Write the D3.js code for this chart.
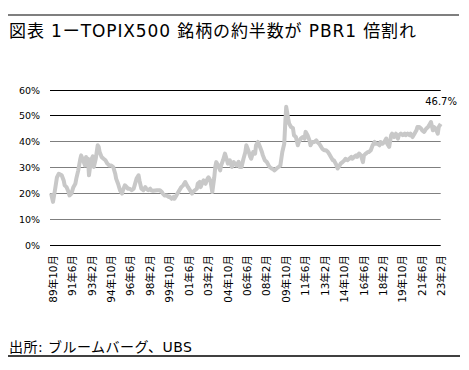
<!DOCTYPE html>
<html>
<head>
<meta charset="utf-8">
<script src="https://cdn.jsdelivr.net/npm/d3@7"></script>
<style>
    body { margin: 0; background: #fff; }
    text { font-family: "DejaVu Sans", "Noto Sans CJK JP", sans-serif; fill: #000; }
</style>
</head>
<body>
<div id="chart"></div>
<script>
// 出所: ブルームバーグ、UBS
const title = "図表 1ーTOPIX500 銘柄の約半数が PBR1 倍割れ";
const source = "出所: ブルームバーグ、UBS";
const lastLabel = "46.7%";

// months counted from 1989年10月
const startMonth = "1989-10";
const monthIdx = [
    -2, 0, 2, 4, 6, 9, 11, 12, 14, 16, 17, 19, 21, 23, 24, 26, 28, 29, 31, 33,
    34, 35, 36, 37, 39, 41, 42, 44, 46, 47, 48, 50, 52, 54, 56, 58, 60, 62, 64, 65,
    67, 69, 71, 72, 74, 76, 77, 79, 81, 83, 84, 86, 88, 89, 91, 93, 95, 96, 98, 100,
    101, 103, 107, 110, 112, 113, 115, 117, 119, 120, 122, 124, 125, 127, 129, 131, 132, 134, 136, 137,
    139, 141, 143, 144, 146, 148, 149, 151, 152, 154, 155, 157, 159, 160, 162, 164, 166, 167, 168, 170,
    172, 173, 175, 177, 179, 180, 182, 184, 186, 187, 189, 191, 192, 194, 196, 198, 199, 201, 203, 204,
    206, 208, 209, 211, 213, 215, 216, 218, 220, 222, 223, 225, 227, 228, 230, 232, 234, 235, 236, 238,
    239, 240, 242, 243, 245, 247, 248, 250, 252, 253, 255, 257, 259, 260, 262, 264, 265, 267, 269, 271,
    272, 274, 276, 277, 279, 281, 283, 284, 286, 288, 289, 291, 293, 295, 296, 298, 300, 301, 303, 305,
    307, 308, 310, 312, 313, 315, 317, 319, 320, 322, 324, 325, 327, 329, 331, 332, 334, 336, 337, 339,
    341, 343, 344, 346, 348, 349, 351, 353, 355, 356, 358, 360, 362, 363, 365, 367, 368, 370, 372, 374,
    375, 377, 379, 380, 382, 384, 386, 387, 389, 391, 392, 394, 396, 397, 399
];
const pct = [
    19.8, 16.5, 21, 26, 27.4, 26.8, 24.8, 22.9, 22.2, 20.3, 19, 19.7, 22.2, 23.5, 25.5, 28.7, 33, 34.5, 32.6, 30.6,
    33.9, 30.6, 33.2, 26.8, 32.6, 34.1, 30, 33.2, 38.4, 37.8, 35.8, 33.9, 33.2, 32.6, 31.3, 30.6, 30.6, 30, 27.4, 25.5,
    23.5, 21, 19.7, 21, 22.9, 22.2, 21.6, 21.6, 21, 21.6, 22.9, 25.5, 26.8, 24.8, 21.6, 21, 22.2, 21.6, 21, 21.6,
    21, 20.8, 21, 21, 20.3, 19.7, 19, 19, 18.4, 18.6, 17.7, 18.4, 17.7, 19, 20.3, 21.6, 22.2, 22.9, 24.2, 23.5,
    22.2, 21, 19.7, 20.3, 21, 21.6, 23.5, 24.2, 22.2, 24.2, 24.8, 23.5, 25.5, 26, 24.8, 20.3, 26, 30, 31.9, 30.6,
    28.7, 30.6, 32.6, 35.2, 32.6, 31.3, 32.6, 30, 31.9, 31.3, 30.6, 32, 30, 30, 33.2, 35.8, 38.4, 36.5, 33.9, 33.2,
    35.8, 35.2, 38.4, 39.7, 37.8, 35.8, 34.5, 32.6, 31.9, 30.6, 30, 29.4, 29, 28.7, 29.4, 30, 30.6, 33.2, 35.8, 39,
    46.8, 53.3, 48.8, 46.8, 45.5, 45, 42.3, 41.6, 38.4, 39.7, 41, 41.6, 41, 43.6, 42.3, 40.3, 38.4, 39.7, 39.7, 40.3,
    39.7, 39, 37.8, 37.1, 36.5, 36.5, 35.8, 35.2, 33.9, 32.6, 32.6, 31.3, 29.4, 30.6, 31.3, 31.9, 32.6, 33.2, 32.6, 33.2,
    33.9, 33.2, 33.9, 34.5, 33.9, 35.2, 34.5, 31.9, 34.5, 35.2, 35.8, 35.8, 36.5, 38.4, 39.7, 39, 39, 38.4, 39.7, 39,
    39.7, 41, 39, 37.8, 42.3, 42.9, 41.6, 42.9, 41, 42.3, 42.9, 42.3, 42.9, 42.3, 42.9, 42.3, 42.9, 41.6, 42.9, 44.2,
    45.5, 45.5, 44.8, 44.2, 43.6, 44.8, 45.5, 46.1, 47.4, 44.2, 45.5, 44.8, 42.9, 45.5, 46.7
];

const yTicks = [0, 10, 20, 30, 40, 50, 60];
const xTickLabels = [
    "89年10月", "91年6月", "93年2月", "94年10月", "96年6月", "98年2月", "99年10月",
    "01年6月", "03年2月", "04年10月", "06年6月", "08年2月", "09年10月", "11年6月",
    "13年2月", "14年10月", "16年6月", "18年2月", "19年10月", "21年6月", "23年2月"
];

const width = 469;
const height = 370;

const svg = d3.select("#chart")
    .append("svg")
    .attr("width", width)
    .attr("height", height);

const parseLabel = d3.timeParse("%y年%m月");
const start = d3.timeParse("%Y-%m")(startMonth);
const data = monthIdx.map((m, i) => ({ date: d3.timeMonth.offset(start, m), v: pct[i] }));
const tickDates = xTickLabels.map(parseLabel);

const x = d3.scaleTime()
    .domain([tickDates[0], tickDates[tickDates.length - 1]])
    .range([53, 441.7]);
const y = d3.scaleLinear()
    .domain([0, 60])
    .range([244.5, 89.5]);

// rules top and bottom
svg.append("line")
    .attr("x1", 8).attr("x2", 459).attr("y1", 15).attr("y2", 15)
    .attr("stroke", "#000").attr("stroke-width", 1.2);
svg.append("line")
    .attr("x1", 8).attr("x2", 460).attr("y1", 356).attr("y2", 356)
    .attr("stroke", "#000").attr("stroke-width", 1.5);

svg.append("text")
    .attr("x", 9)
    .attr("y", 37)
    .attr("textLength", 407)
    .attr("lengthAdjust", "spacing")
    .style("font-size", "17px")
    .text(title);

svg.append("text")
    .attr("x", 9)
    .attr("y", 352)
    .attr("textLength", 183)
    .attr("lengthAdjust", "spacing")
    .style("font-size", "14px")
    .text(source);

// gridlines
const grid = svg.append("g");
yTicks.forEach(t => {
    const yy = Math.round(y(t)) + 0.5;
    grid.append("line")
        .attr("x1", 50).attr("x2", 440.7)
        .attr("y1", yy).attr("y2", yy)
        .attr("stroke", (t === 0 || t >= 50) ? "#000" : "#7f7f7f")
        .attr("stroke-width", 1);
    grid.append("text")
        .attr("x", 40)
        .attr("y", yy)
        .attr("dy", ".35em")
        .attr("text-anchor", "end")
        .style("font-size", "9.5px")
        .text(t + "%");
});

// x labels, rotated
const xl = svg.append("g");
xTickLabels.forEach((lab, i) => {
    const xx = x(tickDates[i]);
    xl.append("text")
        .attr("transform", "translate(" + xx + ",255) rotate(-90)")
        .attr("dy", ".35em")
        .attr("text-anchor", "end")
        .style("font-size", "10.5px")
        .text(lab);
});

const line = d3.line()
    .x(d => x(d.date))
    .y(d => y(d.v));

svg.append("path")
    .datum(data)
    .attr("d", line)
    .attr("fill", "none")
    .attr("stroke", "#c8c8c8")
    .attr("stroke-width", 4)
    .attr("stroke-linejoin", "round");

svg.append("text")
    .attr("x", 457)
    .attr("y", 105)
    .attr("text-anchor", "end")
    .style("font-size", "10px")
    .text(lastLabel);
</script>
</body>
</html>
